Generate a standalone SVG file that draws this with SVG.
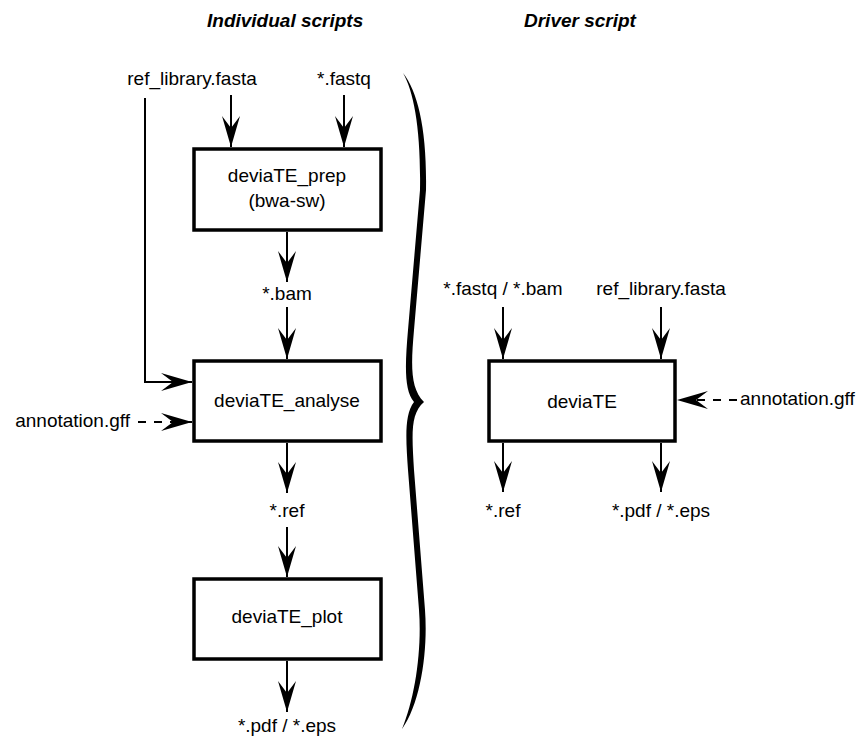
<svg xmlns="http://www.w3.org/2000/svg" width="861" height="737" viewBox="0 0 861 737">
<style>
text{font-family:"Liberation Sans",Arial,sans-serif;font-size:19px;fill:#000}
.t{font-weight:bold;font-style:italic}
.c{text-anchor:middle}
.box{fill:#fff;stroke:#000;stroke-width:3.5}
.ln{fill:none;stroke:#000;stroke-width:2;marker-end:url(#ah)}
.dl{stroke-dasharray:8 8}
</style>
<defs>
<marker id="ah" markerUnits="userSpaceOnUse" viewBox="-32 -10 33 20" refX="0" refY="0" markerWidth="33" markerHeight="20" orient="auto">
<path d="M0,0 L-31,-9 L-19,0 L-31,9 Z" fill="#000"/>
</marker>
</defs>
<text class="t" x="207" y="27">Individual scripts</text>
<text class="t" x="524" y="27">Driver script</text>
<g id="connectors">
<line class="ln" x1="231" y1="95" x2="231" y2="147"/>
<line class="ln" x1="344" y1="95" x2="344" y2="147"/>
<line class="ln" x1="287" y1="232" x2="287" y2="282"/>
<line class="ln" x1="287" y1="307" x2="287" y2="359"/>
<polyline class="ln" points="145,98 145,382 192,382"/>
<line class="ln dl" x1="138" y1="422" x2="192" y2="422"/>
<line class="ln" x1="287" y1="443" x2="287" y2="493"/>
<line class="ln" x1="287" y1="527" x2="287" y2="577"/>
<line class="ln" x1="287" y1="661" x2="287" y2="712"/>
<line class="ln" x1="503" y1="307" x2="503" y2="359"/>
<line class="ln" x1="661" y1="307" x2="661" y2="359"/>
<line class="ln dl" x1="737" y1="400" x2="677" y2="400"/>
<line class="ln" x1="503" y1="443" x2="503" y2="492"/>
<line class="ln" x1="661" y1="443" x2="661" y2="492"/>
</g>
<g id="in-ref"><text class="c" x="192" y="85">ref_library.fasta</text></g>
<g id="in-fastq"><text class="c" x="344" y="85">*.fastq</text></g>
<g id="prep"><rect class="box" x="194" y="149" width="187" height="81"/>
<text class="c" x="287" y="182">deviaTE_prep</text><text class="c" x="287" y="207">(bwa-sw)</text></g>
<g id="bam"><text class="c" x="287" y="300">*.bam</text></g>
<g id="analyse"><rect class="box" x="194" y="361" width="187" height="80"/>
<text class="c" x="287" y="407">deviaTE_analyse</text></g>
<g id="annot1"><text x="130" y="427" text-anchor="end">annotation.gff</text></g>
<g id="ref1"><text class="c" x="287" y="517">*.ref</text></g>
<g id="plot"><rect class="box" x="194" y="579" width="187" height="80"/>
<text class="c" x="287" y="623">deviaTE_plot</text></g>
<g id="pdf1"><text class="c" x="287" y="732">*.pdf / *.eps</text></g>
<g id="brace"><path fill="#000" d="M403 73 C418 92, 427 130, 426 190 L414 330 C411 365, 410 388, 424 402 C410 414, 412 435, 414 470 L425 610 C428 650, 421 702, 402 729 C415 698, 422 650, 419 610 L408 470 C406 440, 404 415, 414 402 C404 390, 405 365, 408 330 L420 190 C421 130, 414 92, 403 73 Z"/></g>
<g id="in-fq2"><text class="c" x="503" y="295">*.fastq / *.bam</text></g>
<g id="in-ref2"><text class="c" x="661" y="295">ref_library.fasta</text></g>
<g id="deviate"><rect class="box" x="489" y="361" width="186" height="80"/>
<text class="c" x="582" y="408">deviaTE</text></g>
<g id="annot2"><text x="740" y="405">annotation.gff</text></g>
<g id="ref2"><text class="c" x="503" y="517">*.ref</text></g>
<g id="pdf2"><text class="c" x="661" y="517">*.pdf / *.eps</text></g>
</svg>
